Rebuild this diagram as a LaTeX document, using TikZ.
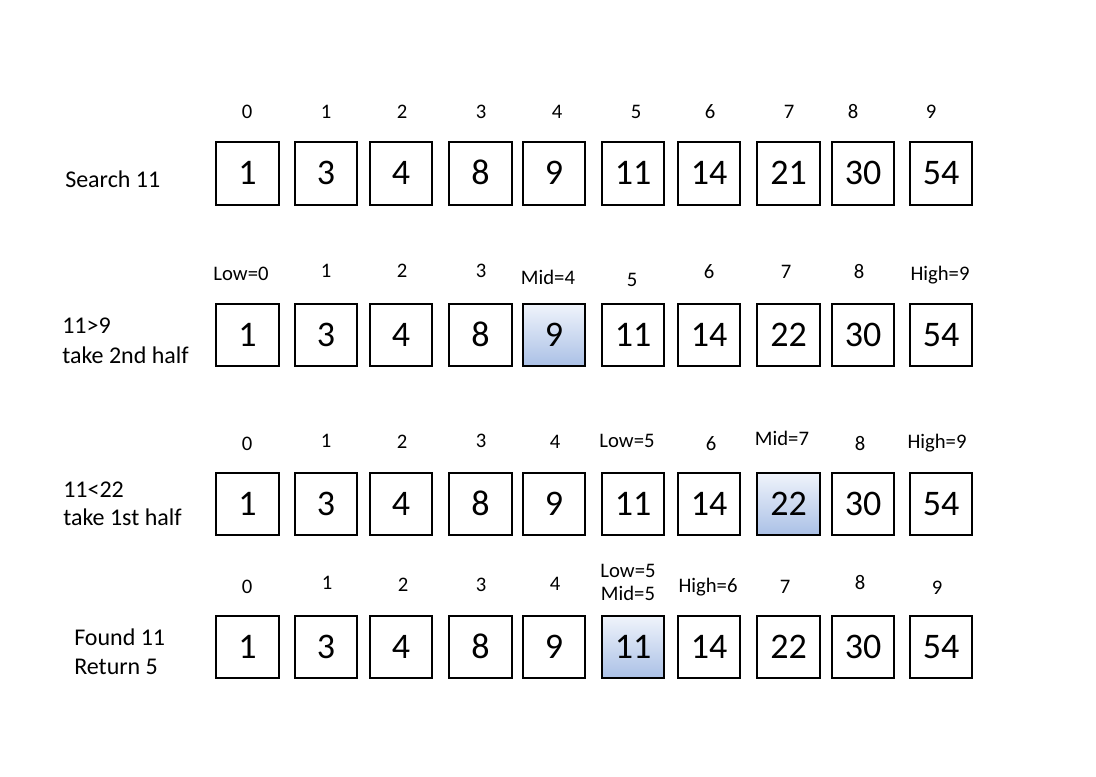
\documentclass[tikz,border=0pt]{standalone}
\usepackage{fontspec}
\setmainfont{Carlito}
\definecolor{hlTop}{RGB}{240,244,251}
\definecolor{hlBot}{RGB}{170,192,230}
\begin{document}
\begin{tikzpicture}[x=0.75pt,y=-0.75pt,
  cell/.style={draw,line width=1.5pt,minimum width=47pt,minimum height=47pt,inner sep=0pt,text height=17pt,text depth=0pt,font=\fontsize{27}{30}\selectfont},
  hl/.style={cell,top color=hlTop,bottom color=hlBot},
  idx/.style={font=\fontsize{15.5}{18}\selectfont,inner sep=0pt,anchor=base},
  side/.style={font=\fontsize{18}{22}\selectfont,inner sep=0pt,anchor=base west}]
\useasboundingbox (0,0) rectangle (1096,776);
\def\xs{{247.5,326,401,480.5,554,633,709,788.5,863,941}}
% row 1
\foreach \v [count=\i from 0] in {1,3,4,8,9,11,14,21,30,54}
  \node[cell] (a\i) at ({\xs[\i]},173.5) {\v};
% row 2
\foreach \v [count=\i from 0] in {1,3,4,8,9,11,14,22,30,54}{
  \ifnum\i=4 \node[hl] (b\i) at ({\xs[\i]},335) {\v};
  \else \node[cell] (b\i) at ({\xs[\i]},335) {\v}; \fi}
% row 3
\foreach \v [count=\i from 0] in {1,3,4,8,9,11,14,22,30,54}{
  \ifnum\i=7 \node[hl] (c\i) at ({\xs[\i]},504) {\v};
  \else \node[cell] (c\i) at ({\xs[\i]},504) {\v}; \fi}
% row 4
\foreach \v [count=\i from 0] in {1,3,4,8,9,11,14,22,30,54}{
  \ifnum\i=5 \node[hl] (d\i) at ({\xs[\i]},647) {\v};
  \else \node[cell] (d\i) at ({\xs[\i]},647) {\v}; \fi}
% index labels row 1
\foreach \t/\x/\y [count=\k] in {0/247/118,1/326/118,2/402/118,3/481/118,4/557/118,5/636/118,6/710/118,7/789/118,8/853/118,9/931/118}
  \node[idx] (ia\k) at (\x,\y) {\t};
% index labels row 2
\foreach \t/\x/\y [count=\k] in {Low=0/241/280,1/326/277,2/402/277,3/481/277,Mid=4/548/284,5/632/286,6/709/278,7/786/278,8/859/278,High=9/940/280}
  \node[idx] (ib\k) at (\x,\y) {\t};
% index labels row 3
\foreach \t/\x/\y [count=\k] in {0/247/450,1/326/447,2/402/448,3/481/447,4/555/448,Low=5/627/447,6/711/450,Mid=7/782/445,8/860/450,High=9/937/448}
  \node[idx] (ic\k) at (\x,\y) {\t};
% index labels row 4
\foreach \t/\x/\y [count=\k] in {0/247/593,1/327/589,2/403/591,3/481/591,4/555/590,Low=5/628/577,Mid=5/628/600,High=6/708/592,7/785/593,8/860/589,9/937/594}
  \node[idx] (id\k) at (\x,\y) {\t};
% side labels
\node[side] (s1) at (65,187) {Search 11};
\node[side] (s2a) at (62,333) {11>9};
\node[side] (s2b) at (62,363) {take 2nd half};
\node[side] (s3a) at (63,497) {11<22};
\node[side] (s3b) at (63,525) {take 1st half};
\node[side] (s4a) at (74,645) {Found 11};
\node[side] (s4b) at (74,674) {Return 5};
\end{tikzpicture}
\end{document}
